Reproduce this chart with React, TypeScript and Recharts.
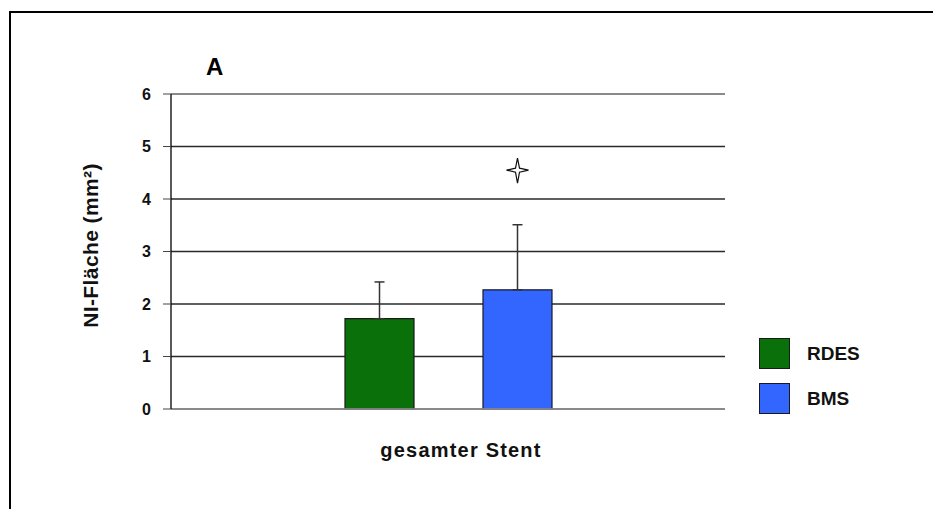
import React from 'react';
import { BarChart, Bar, XAxis, YAxis, CartesianGrid, ErrorBar, Legend, ReferenceLine, Rectangle } from 'recharts';

const categories = ['gesamter Stent'];
const rdesMean = [1.72];
const rdesSd = [0.7];
const bmsMean = [2.27];
const bmsSd = [1.24];
const bmsSig = [4.55];
const yTicks = [0, 1, 2, 3, 4, 5, 6];
const seriesNames = ['RDES', 'BMS'];
const panelLabel = 'A';
const yLabel = 'NI-Fläche (mm²)';

const data = categories.map((c, i) => ({
  cat: c,
  rdes: rdesMean[i],
  rdesErr: [0, rdesSd[i]],
  bms: bmsMean[i],
  bmsErr: [0, bmsSd[i]],
  sig: bmsSig[i],
}));

const FONT = '"Liberation Sans", Arial, sans-serif';
const Y_MAX = yTicks[yTicks.length - 1];

const BmsShape = (props: any) => {
  const { x, y, width, height, fill, background, payload } = props;
  const cx = x + width / 2;
  let star = null;
  if (payload && payload.sig != null && background) {
    const sy = background.y + background.height * (1 - payload.sig / Y_MAX);
    const d = `M ${cx} ${sy - 12} L ${cx + 2} ${sy - 2} L ${cx + 11} ${sy} L ${cx + 2} ${sy + 2} L ${cx} ${sy + 13} L ${cx - 2} ${sy + 2} L ${cx - 11} ${sy} L ${cx - 2} ${sy - 2} Z`;
    star = <path d={d} fill="#fff" stroke="#111" strokeWidth={1.2} />;
  }
  return (
    <g>
      <Rectangle x={x} y={y} width={width} height={height} fill={fill} stroke="#1a1a2a" strokeWidth={1.2} />
      {star}
    </g>
  );
};

const LegendContent = (props: any) => {
  const items = [...(props.payload || [])].sort(
    (a: any, b: any) => seriesNames.indexOf(a.value) - seriesNames.indexOf(b.value)
  );
  return (
    <div style={{ fontFamily: FONT }}>
      {items.map((p: any, i: number) => (
        <div key={i} style={{ display: 'flex', alignItems: 'center', height: 45 }}>
          <div style={{ width: 29, height: 29, background: p.color, border: '1px solid #1a1a1a' }} />
          <span style={{ marginLeft: 17, fontWeight: 'bold', fontSize: 19, color: '#111' }}>{p.value}</span>
        </div>
      ))}
    </div>
  );
};

const XTick = (props: any) => {
  const { x, y, payload } = props;
  return (
    <text x={x + 13} y={y + 48} textAnchor="middle" fontFamily={FONT} fontWeight="bold" fontSize={20} letterSpacing={1.2} fill="#111">
      {payload.value}
    </text>
  );
};

const YLabel = (props: any) => {
  const vb = props.viewBox || {};
  const cx = vb.x - 1;
  const cy = vb.y + vb.height / 2 - 6;
  return (
    <text x={cx} y={cy} transform={`rotate(-90 ${cx} ${cy})`} textAnchor="middle" dominantBaseline="central" fontFamily={FONT} fontWeight="bold" fontSize={21} letterSpacing={0.4} fill="#111">
      {yLabel}
    </text>
  );
};

export default function App() {
  return (
    <div style={{ position: 'absolute', left: 0, top: 0, width: 933, height: 509, overflow: 'hidden', background: '#fff' }}>
      <div style={{ position: 'absolute', left: 9, top: 11, width: 924, height: 2, background: '#000' }} />
      <div style={{ position: 'absolute', left: 9, top: 11, width: 2, height: 498, background: '#000' }} />
      <div style={{ position: 'absolute', left: 206, top: 53, fontFamily: FONT, fontWeight: 'bold', fontSize: 24, lineHeight: '28px', color: '#000' }}>{panelLabel}</div>
      <div style={{ position: 'absolute', left: 0, top: 0 }}>
        <BarChart width={920} height={509} data={data} margin={{ top: 94, right: 195, bottom: 40, left: 91 }} barSize={69} barGap={69}>
          <CartesianGrid vertical={false} stroke="#2a2a2a" strokeWidth={1.4} yAxisId="l" />
          <XAxis dataKey="cat" height={60} axisLine={{ stroke: '#999', strokeWidth: 1.5 }} tickLine={false} tickSize={0} tickMargin={0} tick={<XTick />} />
          <YAxis yAxisId="l" width={80} domain={[0, Y_MAX]} ticks={yTicks} interval={0} axisLine={{ stroke: '#000', strokeWidth: 1.3 }} tickLine={{ stroke: '#444' }} tickSize={8} tickMargin={12} tick={{ fontFamily: FONT, fontWeight: 'bold', fontSize: 16, fill: '#111' }} label={<YLabel />} />
          <YAxis yAxisId="r" orientation="right" width={0} domain={[0, Y_MAX]} ticks={yTicks} tick={false} tickLine={false} axisLine={{ stroke: '#888', strokeWidth: 1.5 }} />
          <ReferenceLine yAxisId="l" y={Y_MAX} stroke="#999" strokeWidth={1.5} />
          <Legend layout="vertical" align="center" verticalAlign="middle" content={<LegendContent />} wrapperStyle={{ position: 'absolute', left: 759, top: 331, width: 140, height: 90 }} />
          <Bar yAxisId="l" dataKey="rdes" name={seriesNames[0]} fill="#0a700a" stroke="#1a1a1a" strokeWidth={1.2} isAnimationActive={false}>
            <ErrorBar dataKey="rdesErr" direction="y" width={5} stroke="#333" strokeWidth={1.5} />
          </Bar>
          <Bar yAxisId="l" dataKey="bms" name={seriesNames[1]} fill="#3366ff" isAnimationActive={false} shape={<BmsShape />}>
            <ErrorBar dataKey="bmsErr" direction="y" width={5} stroke="#333" strokeWidth={1.5} />
          </Bar>
        </BarChart>
      </div>
    </div>
  );
}
